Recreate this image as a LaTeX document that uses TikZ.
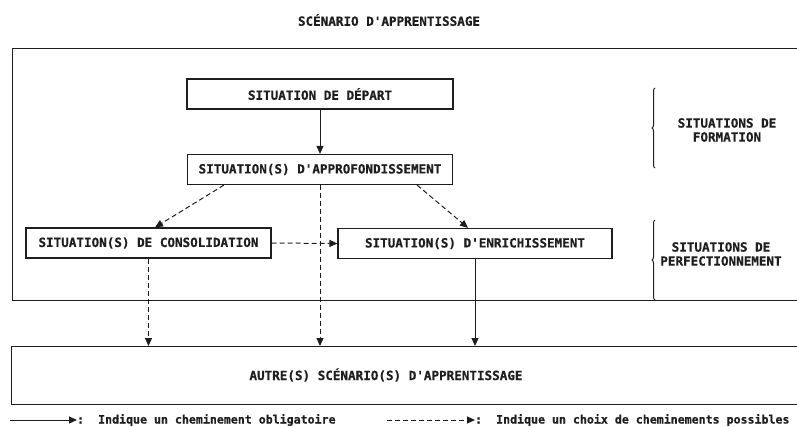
\documentclass[tikz,border=0pt]{standalone}
\usepackage{fontspec}
\setmonofont{DejaVu Sans Mono}[BoldFeatures={FakeBold=0.6}]
\usetikzlibrary{arrows.meta,calc,decorations.pathreplacing}
\definecolor{ScanInk}{RGB}{30,30,30}

\begin{document}
\begin{tikzpicture}[
  x=1pt,y=-1pt,
  every node/.style={text=ScanInk},
  lbl/.style={font=\ttfamily\bfseries\fontsize{12.6}{14}\selectfont,inner sep=0pt,align=center},
  box/.style={lbl,draw=ScanInk,line width=1.2pt,minimum height=30pt},
  cadrebox/.style={draw=ScanInk,line width=1.2pt,anchor=north west,minimum width=830pt},
  oblig/.style={-{Triangle[length=8pt,width=7pt]},draw=ScanInk,line width=1pt},
  choix/.style={oblig,dash pattern=on 5pt off 3pt},
  accol/.style={draw=ScanInk,line width=1pt,decorate,decoration={brace,amplitude=3pt}},
  legende/.style={font=\ttfamily\bfseries\fontsize{11.6}{13}\selectfont,inner sep=0pt,anchor=west}
]
\clip (0,0) rectangle (797,426);
\node[lbl] (titre) at (389,20) {SCÉNARIO D'APPRENTISSAGE};
\node[cadrebox,minimum height=252pt] (scenario) at (12,48) {};
\node[cadrebox,minimum height=58pt] (autre) at (11,346) {};
\node[lbl] (autretxt) at (386,375) {AUTRE(S) SCÉNARIO(S) D'APPRENTISSAGE};

% situations
\node[box,minimum width=266pt] (depart) at (320,94) {SITUATION DE DÉPART};
\node[box,minimum width=265pt] (approf) at (320,169.5) {SITUATION(S) D'APPROFONDISSEMENT};
\node[box,minimum width=245pt] (consol) at (148.5,243) {SITUATION(S) DE CONSOLIDATION};
\node[box,minimum width=274pt] (enrich) at (475,243.5) {SITUATION(S) D'ENRICHISSEMENT};

% cheminements
\draw[oblig] (depart.south) -- (approf.north);
\draw[choix] ($(approf.south west)+(37,0)$) -- ($(consol.north)+(6.5,0)$);
\draw[choix] ($(approf.south east)+(-36,0)$) -- ($(enrich.north)+(-7,0)$);
\draw[choix] (approf.south) -- (approf.south |- autre.north);
\draw[choix] (consol.east) -- (enrich.west);
\draw[choix] (consol.south) -- (consol.south |- autre.north);
\draw[oblig] (enrich.south) -- (enrich.south |- autre.north);

% accolades
\draw[accol] (655,168) -- (655,88);
\draw[accol] (655,300) -- (655,220);
\node[lbl] (formation) at (727,130) {SITUATIONS DE\\FORMATION};
\node[lbl] (perfect) at (721,254) {SITUATIONS DE\\PERFECTIONNEMENT};

% legende
\coordinate (oblig0) at (10,420);
\node[legende] (obligtxt) at (77,420) {:~~Indique un cheminement obligatoire};
\draw[oblig] (oblig0) -- (obligtxt.west);
\coordinate (choix0) at (387,420);
\node[legende] (choixtxt) at (475,420) {:~~Indique un choix de cheminements possibles};
\draw[choix] (choix0) -- (choixtxt.west);
\end{tikzpicture}
\end{document}
